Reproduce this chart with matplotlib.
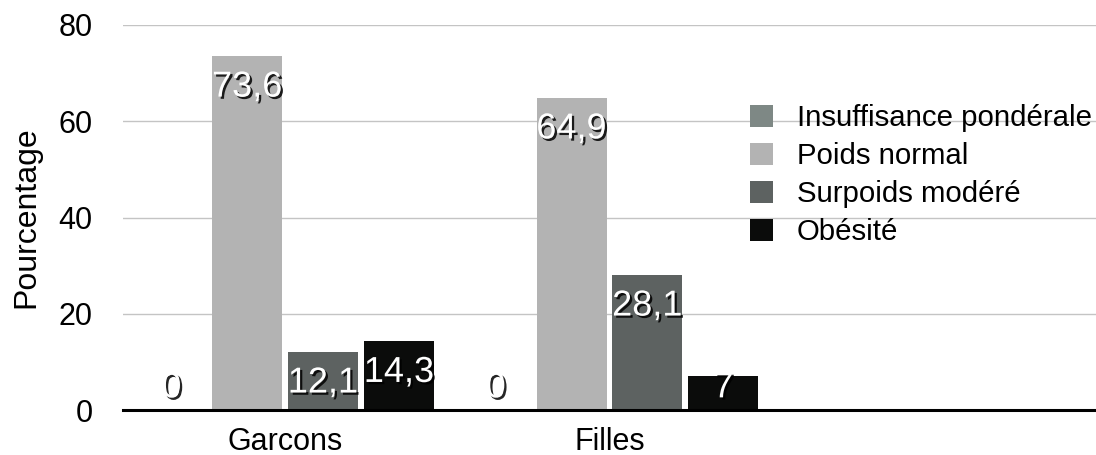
import matplotlib
matplotlib.use("Agg")
import matplotlib.pyplot as plt
import matplotlib.patheffects as pe
from matplotlib.patches import Patch
import numpy as np

plt.rcParams['font.family'] = ['Liberation Sans', 'DejaVu Sans']

# Data
groups = ["Garcons", "Filles"]
series = ["Insuffisance pondérale", "Poids normal", "Surpoids modéré", "Obésité"]
garcons = [0, 73.6, 12.1, 14.3]
filles = [0, 64.9, 28.1, 7]
value_labels_garcons = ["0", "73,6", "12,1", "14,3"]
value_labels_filles = ["0", "64,9", "28,1", "7"]
y_ticks = [0, 20, 40, 60, 80]

colors = ["#7e8885", "#b3b3b3", "#5d6261", "#0b0c0b"]

fig = plt.figure(figsize=(10.96, 4.55), dpi=100)
ax = fig.add_axes([123 / 1096, 1 - 410 / 455, 1 - 123 / 1096, (410 - 25) / 455])

values = np.array([garcons, filles])
labels = [value_labels_garcons, value_labels_filles]
x = np.arange(len(groups))
width = 0.216
step = 0.234
offsets = (np.arange(len(series)) - 1.5) * step

shadow = [pe.SimplePatchShadow(offset=(1.6, -1.6), shadow_rgbFace="#000000", alpha=0.85),
          pe.Normal()]

for i, name in enumerate(series):
    xs = x + offsets[i]
    ax.bar(xs, values[:, i], width=width, color=colors[i], zorder=2, label=name)
    for g in range(len(groups)):
        v = values[g, i]
        ypos = max(v - 6.5, 4.6)
        t = ax.text(xs[g], ypos, labels[g][i], ha="center", va="center",
                    fontsize=26, color="white", zorder=4)
        t.set_path_effects(shadow)

ax.set_xlim(-0.5, 2.5)
ax.set_ylim(0, 80)
ax.set_yticks(y_ticks)
ax.set_yticklabels([str(t) for t in y_ticks])
ax.set_xticks(x)
ax.set_xticklabels(groups)
ax.tick_params(axis="y", length=0, pad=22, labelsize=22)
ax.tick_params(axis="x", length=0, pad=12, labelsize=22)
ax.yaxis.grid(True, color="#c4c4c4", linewidth=1.0, zorder=0)
ax.set_axisbelow(True)
for s in ["top", "right", "left"]:
    ax.spines[s].set_visible(False)
ax.spines["bottom"].set_color("black")
ax.spines["bottom"].set_linewidth(2.2)
ax.spines["bottom"].set_zorder(5)

ax.set_ylabel("Pourcentage", fontsize=23, labelpad=12)

handles = [Patch(facecolor=c, edgecolor="none") for c in colors]
leg = fig.legend(handles, series, loc="upper left",
                 bbox_to_anchor=(750 / 1096, 1 - 104 / 455),
                 frameon=False, fontsize=21.2, handlelength=0.78, handleheight=0.78,
                 handletextpad=0.8, labelspacing=0.34, borderpad=0, borderaxespad=0)

fig.savefig("out.png", dpi=100)
